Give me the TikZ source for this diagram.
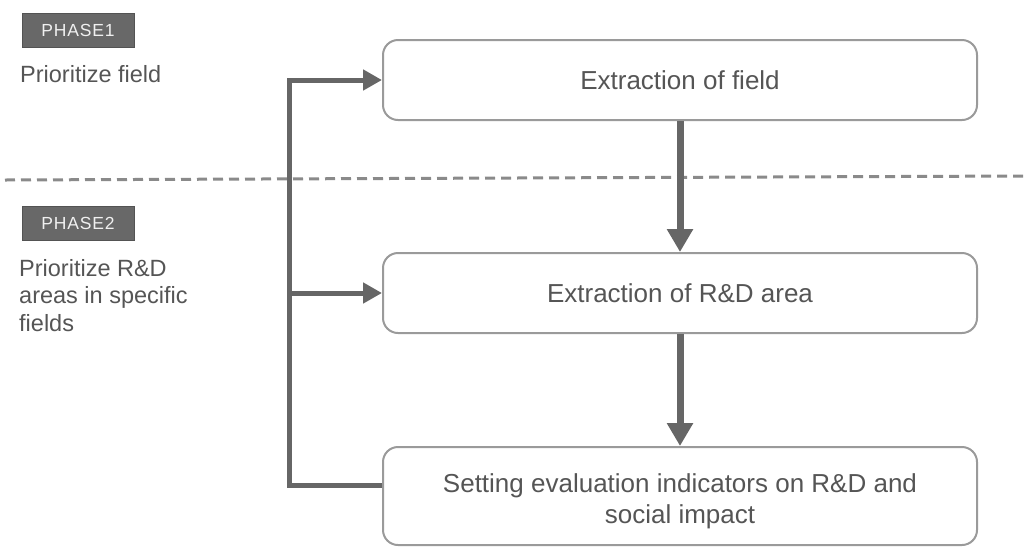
\documentclass[tikz,border=0pt]{standalone}
\usepackage{fontspec}
\setmainfont{Liberation Sans}
\usetikzlibrary{arrows.meta}
\definecolor{txt}{HTML}{555555}
\definecolor{linec}{HTML}{666666}
\definecolor{boxc}{HTML}{9A9A9A}
\definecolor{dashc}{HTML}{8A8A8A}
\definecolor{phasefill}{HTML}{686868}
\definecolor{phasetxt}{HTML}{F0F0F0}
\tikzset{
  stepbox/.style={draw=boxc, line width=2pt, rounded corners=15pt, fill=white,
    minimum width=594pt, minimum height=80pt, inner sep=0pt, text=txt,
    font=\fontsize{26}{31}\selectfont, align=center},
  phasebox/.style={draw=phasefill!80!black, line width=0.8pt, fill=phasefill,
    minimum width=112pt, minimum height=34pt, inner sep=0pt, text=phasetxt,
    font=\fontsize{17.5}{20}\selectfont\addfontfeature{LetterSpace=5}},
  sidetext/.style={text=txt, font=\fontsize{23.5}{27.5}\selectfont, inner sep=0pt, align=left},
  bus/.style={draw=linec, line width=5pt, line join=miter},
  flow/.style={draw=linec, line width=7pt, -{Triangle[length=23pt,width=25pt]}},
  sidearrow/.style={-{Triangle[length=19pt,width=20pt]}},
  divider/.style={draw=dashc, line width=3pt, dash pattern=on 10pt off 6pt}
}
\begin{document}
\begin{tikzpicture}[x=1pt,y=-1pt]
\useasboundingbox (0,0) rectangle (1027,547);
% divider
\coordinate (dl) at (5,180);
\coordinate (dr) at (1027,176);
\draw[divider] (dl) -- (dr);
% phase labels
\node[phasebox] (p1) at (78,30) {PHASE1};
\node[sidetext, anchor=base west] (t1) at (20,82) {Prioritize field};
\node[phasebox] (p2) at (78,223.5) {PHASE2};
\node[sidetext, anchor=north west] (t2) at (19,259) {Prioritize R\&D\\areas in specific\\fields};
% boxes
\node[stepbox] (b1) at (680,80) {Extraction of field};
\node[stepbox] (b2) at (680,293) {Extraction of R\&D area};
\node[stepbox, minimum height=98pt] (b3) at (680,496) {\rule{0pt}{29.5pt}Setting evaluation indicators on R\&D and\\social impact};
% bus
\coordinate (jtop) at (289,80);
\coordinate (jmid) at (289,293);
\coordinate (jbot) at (289,485);
\draw[bus, sidearrow] (b3.west |- jbot) -- (jbot) -- (jtop) -- (b1.west);
\draw[bus, sidearrow] (jmid) -- (b2.west);
% flow arrows
\draw[flow] (b1.south) -- (b2.north);
\draw[flow] (b2.south) -- (b3.north);
\end{tikzpicture}
\end{document}
